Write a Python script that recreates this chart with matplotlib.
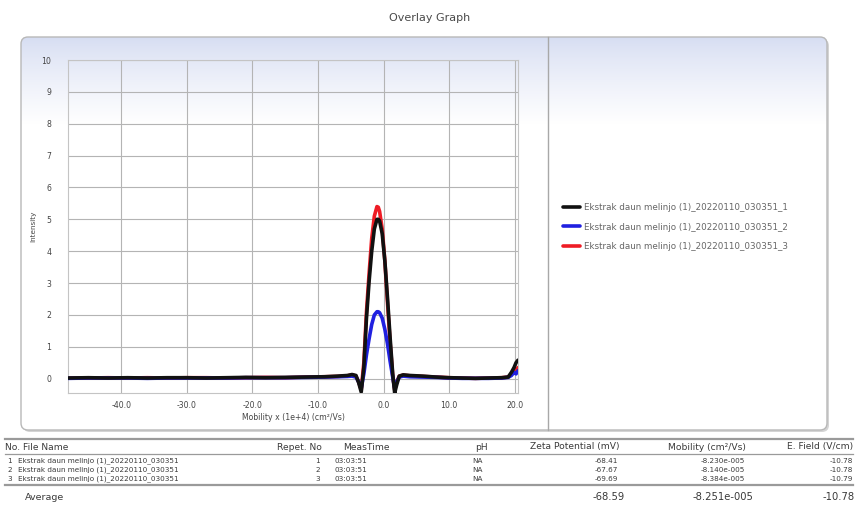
import numpy as np
import matplotlib
matplotlib.use("Agg")
import matplotlib.pyplot as plt
from matplotlib.patches import FancyBboxPatch
from matplotlib.lines import Line2D

# ---- data ----
mobility = [-48.1, -45, -42, -39, -36, -33, -30, -27, -24, -21, -18, -15, -12, -9, -7,
            -5.5, -4.8, -4.2, -3.8, -3.4, -3.0, -2.6, -2.2, -1.8, -1.4, -1.0, -0.8, -0.6,
            -0.2, 0.2, 0.6, 1.0, 1.4, 1.7, 2.0, 2.4, 3.0, 4, 6, 8, 10, 12, 14, 16, 18,
            19.0, 19.5, 19.9, 20.2, 20.5]

run1 = [0.02, 0.03, 0.02, 0.03, 0.02, 0.03, 0.03, 0.02, 0.03, 0.04, 0.03, 0.04, 0.05, 0.06, 0.08,
        0.10, 0.13, 0.10, -0.12, -0.42, 0.35, 1.90, 3.05, 4.00, 4.70, 5.00, 5.00, 4.95,
        4.55, 3.70, 2.55, 1.30, 0.15, -0.45, -0.20, 0.08, 0.12, 0.10, 0.08, 0.05, 0.03, 0.02, 0.01, 0.02, 0.03,
        0.05, 0.20, 0.35, 0.50, 0.58]

run2 = [0.01, 0.02, 0.02, 0.02, 0.01, 0.02, 0.02, 0.02, 0.02, 0.03, 0.03, 0.03, 0.04, 0.05, 0.06,
        0.07, 0.08, 0.05, -0.10, -0.30, 0.15, 0.75, 1.25, 1.70, 2.00, 2.10, 2.10, 2.07,
        1.90, 1.55, 1.10, 0.55, 0.05, -0.30, -0.10, 0.05, 0.08, 0.06, 0.05, 0.04, 0.02, 0.01, 0.01, 0.01, 0.02,
        0.04, 0.10, 0.20, 0.15, 0.25]

run3 = [0.02, 0.02, 0.03, 0.02, 0.03, 0.02, 0.03, 0.03, 0.02, 0.03, 0.04, 0.03, 0.05, 0.06, 0.07,
        0.09, 0.12, 0.08, -0.10, -0.35, 0.50, 2.10, 3.30, 4.40, 5.10, 5.40, 5.38, 5.25,
        4.70, 3.70, 2.40, 1.15, 0.10, -0.35, -0.10, 0.08, 0.11, 0.09, 0.07, 0.05, 0.03, 0.02, 0.01, 0.02, 0.03,
        0.05, 0.15, 0.30, 0.25, 0.35]

series_names = ["Ekstrak daun melinjo (1)_20220110_030351_1",
                "Ekstrak daun melinjo (1)_20220110_030351_2",
                "Ekstrak daun melinjo (1)_20220110_030351_3"]
series_colors = ["#111111", "#2020e0", "#ee1c25"]

x_ticks = [-40, -30, -20, -10, 0, 10, 20]
y_ticks = list(range(0, 11))

# table below the graph
file_name = "Ekstrak daun melinjo (1)_20220110_030351"
repet_no = ["1", "2", "3"]
meas_time = ["03:03:51", "03:03:51", "03:03:51"]
ph = ["NA", "NA", "NA"]
zeta = ["-68.41", "-67.67", "-69.69"]
mobility_cm = ["-8.230e-005", "-8.140e-005", "-8.384e-005"]
efield = ["-10.78", "-10.78", "-10.79"]
avg_zeta, avg_mob, avg_field = "-68.59", "-8.251e-005", "-10.78"

W, H = 855, 505
fig = plt.figure(figsize=(W / 100, H / 100), dpi=100)
fig.patch.set_facecolor("white")

# background layer in pixel coordinates
bg = fig.add_axes([0, 0, 1, 1], zorder=-5)
bg.set_xlim(0, W)
bg.set_ylim(H, 0)
bg.axis("off")

panel = FancyBboxPatch((21, 37), 806, 393, boxstyle="round,pad=0,rounding_size=7",
                       facecolor="none", edgecolor="#b8b8b8", lw=1.0, zorder=3)
shadow = FancyBboxPatch((23, 39), 806, 393, boxstyle="round,pad=0,rounding_size=7",
                        facecolor="#d4d4d4", edgecolor="none", zorder=0)
bg.add_patch(shadow)
bg.add_patch(panel)
grad = np.linspace(0, 1, 200).reshape(-1, 1)
grad = np.clip(grad / 0.22, 0, 1) ** 0.8
top = np.array([214, 221, 242]) / 255.0
img = top[None, None, :] * (1 - grad[:, :, None]) + np.ones(3)[None, None, :] * grad[:, :, None]
im = bg.imshow(img, extent=(21, 827, 430, 37), aspect="auto", zorder=1, interpolation="bilinear")
im.set_clip_path(panel)
bg.plot([548, 548], [37, 430], color="#a8a8a8", lw=1.0, zorder=4)

# title
fig.text(430 / W, 1 - 18 / H, "Overlay Graph", ha="center", va="center",
         fontsize=8, color="#4a4a4a")

# main graph
ax = fig.add_axes([68 / W, 1 - 393 / H, 450 / W, 333 / H])
ax.set_facecolor("none")
zorders = [4, 3, 2]
for y, c, name, z in zip([run1, run2, run3], series_colors, series_names, zorders):
    ax.plot(mobility, y, color=c, lw=2.6, label=name, zorder=z, solid_capstyle="round")

ax.set_xlim(-48.1, 20.5)
ax.set_ylim(-0.45, 10.0)
ax.set_xticks(x_ticks)
ax.set_xticklabels([f"{t:.1f}" for t in x_ticks])
ax.set_yticks(y_ticks)
ax.grid(True, color="#b4b4b4", lw=0.8)
for s in ax.spines.values():
    s.set_color("#c4c4c4")
    s.set_linewidth(0.8)
ax.tick_params(axis="both", labelsize=5.6, colors="#444444", length=0, pad=6)
ax.tick_params(axis="y", pad=12)
ax.set_xlabel("Mobility x (1e+4) (cm²/Vs)", fontsize=5.6, color="#444444", labelpad=2)
ax.set_ylabel("Intensity", fontsize=5.2, color="#444444", labelpad=4)

fig.legend(loc="center left", bbox_to_anchor=(555 / W, 1 - 227 / H), frameon=False,
           fontsize=6.3, handlelength=2.0, labelspacing=1.15, handletextpad=0.4,
           labelcolor="#666666")

# table
def hline(y, lw=1.0, color="#9a9a9a"):
    fig.add_artist(Line2D([5 / W, 853 / W], [1 - y / H, 1 - y / H], color=color, lw=lw))

hline(439, 1.6)
hline(454, 0.9)
hline(485, 1.6)

tc = "#3a3a3a"
hy = 1 - 447 / H
hs = 6.6
fig.text(5 / W, hy, "No. File Name", fontsize=hs, color=tc, va="center")
fig.text(322 / W, hy, "Repet. No", fontsize=hs, color=tc, va="center", ha="right")
fig.text(343 / W, hy, "MeasTime", fontsize=hs, color=tc, va="center")
fig.text(488 / W, hy, "pH", fontsize=hs, color=tc, va="center", ha="right")
fig.text(620 / W, hy, "Zeta Potential (mV)", fontsize=hs, color=tc, va="center", ha="right")
fig.text(746 / W, hy, "Mobility (cm²/Vs)", fontsize=hs, color=tc, va="center", ha="right")
fig.text(853 / W, hy, "E. Field (V/cm)", fontsize=hs, color=tc, va="center", ha="right")

rs = 5.2
for i, ry in enumerate([461, 470, 479]):
    yy = 1 - ry / H
    fig.text(12 / W, yy, str(i + 1), fontsize=rs, color=tc, va="center", ha="right")
    fig.text(18 / W, yy, file_name, fontsize=rs, color=tc, va="center")
    fig.text(320 / W, yy, repet_no[i], fontsize=rs, color=tc, va="center", ha="right")
    fig.text(334 / W, yy, meas_time[i], fontsize=rs, color=tc, va="center")
    fig.text(472 / W, yy, ph[i], fontsize=rs, color=tc, va="center")
    fig.text(618 / W, yy, zeta[i], fontsize=rs, color=tc, va="center", ha="right")
    fig.text(745 / W, yy, mobility_cm[i], fontsize=rs, color=tc, va="center", ha="right")
    fig.text(853 / W, yy, efield[i], fontsize=rs, color=tc, va="center", ha="right")

ay = 1 - 497 / H
fig.text(25 / W, ay, "Average", fontsize=6.8, color=tc, va="center")
fig.text(625 / W, ay, avg_zeta, fontsize=7.2, color=tc, va="center", ha="right")
fig.text(753 / W, ay, avg_mob, fontsize=7.2, color=tc, va="center", ha="right")
fig.text(855 / W, ay, avg_field, fontsize=7.2, color=tc, va="center", ha="right")

fig.savefig("out.png", dpi=100)
